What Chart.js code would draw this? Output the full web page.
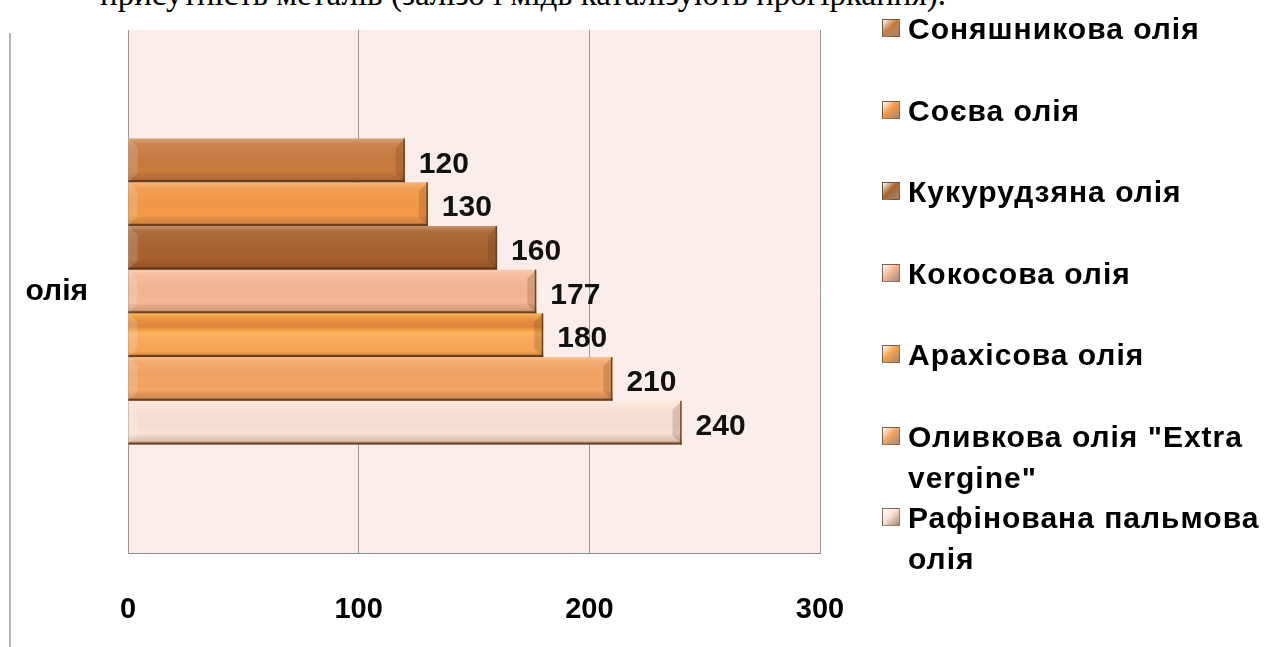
<!DOCTYPE html>
<html>
<head>
<meta charset="utf-8">
<script src="https://cdn.jsdelivr.net/npm/chart.js@4"></script>
<style>
  html, body { margin: 0; padding: 0; background: #fff; overflow: hidden; }
  body { width: 1282px; height: 647px; position: relative; font-family: 'Liberation Sans', Arial, sans-serif; }
  #wrap { position: absolute; left: 0; top: 0; width: 1282px; height: 647px; }
  .page-text {
    position: absolute; left: 100px; top: -22px; white-space: nowrap;
    font-family: 'Liberation Serif', 'Times New Roman', serif; font-size: 33px; line-height: 33px; color: #000;
  }
  .page-rule { position: absolute; left: 9px; top: 33px; width: 2px; height: 614px; background: #b4b4b4; }
  #legend { position: absolute; left: 0; top: 0; }
  .item { position: absolute; left: 882px; width: 395px; display: flex; align-items: flex-start; }
  .swatch { width: 18px; height: 18px; margin-top: 11px; margin-right: 8px; flex: none; box-sizing: border-box; border: 1px solid rgba(90, 50, 20, 0.6); }
  .name { font-weight: bold; font-size: 30px; line-height: 41px; letter-spacing: 1px; color: #000; max-width: 368px; }
</style>
</head>
<body>
<div class="page-text">присутність металів (залізо і мідь каталізують прогіркання).</div>
<div class="page-rule"></div>
<div id="wrap"><canvas id="chart" width="1282" height="647"></canvas></div>
<div id="legend"></div>
<script>
// one category, seven oils
const categories = ['олія'];
const oils = [
    'Соняшникова олія',
    'Соєва олія',
    'Кукурудзяна олія',
    'Кокосова олія',
    'Арахісова олія',
    'Оливкова олія "Extra vergine"',
    'Рафінована пальмова олія'
];
const values = [120, 130, 160, 177, 180, 210, 240];
const xTicks = [0, 100, 200, 300];

const colors = ['#C97B3F', '#F39A48', '#A9632F', '#F6B794', '#F6A04A', '#F4A463', '#FBE1D5'];

const plotBg = {
    id: 'plotBg',
    beforeDraw(chart) {
        const { ctx, chartArea: a } = chart;
        ctx.save();
        ctx.fillStyle = '#FBEEEA';
        ctx.fillRect(a.left, a.top, a.right - a.left, a.bottom - a.top);
        ctx.restore();
    }
};

// shading over each bar + the value at its end
const bevel = {
    id: 'bevel',
    afterDatasetsDraw(chart) {
        const ctx = chart.ctx;
        ctx.save();
        chart.data.datasets.forEach((ds, i) => {
            chart.getDatasetMeta(i).data.forEach((bar, j) => {
                const left = Math.min(bar.base, bar.x), right = Math.max(bar.base, bar.x);
                const top = bar.y - bar.height / 2, bottom = bar.y + bar.height / 2;
                const w = right - left, h = bottom - top;

                const g = ctx.createLinearGradient(0, top, 0, bottom);
                if (i === 4) {
                    g.addColorStop(0, 'rgba(255,200,90,0.55)');
                    g.addColorStop(0.18, 'rgba(200,110,40,0.35)');
                    g.addColorStop(0.3, 'rgba(190,100,40,0.45)');
                    g.addColorStop(0.42, 'rgba(255,190,80,0.45)');
                    g.addColorStop(0.55, 'rgba(255,255,255,0.12)');
                    g.addColorStop(0.85, 'rgba(255,255,255,0.05)');
                    g.addColorStop(0.94, 'rgba(70,35,10,0.2)');
                    g.addColorStop(1, 'rgba(70,35,10,0.6)');
                } else {
                    g.addColorStop(0, 'rgba(255,255,255,0.3)');
                    g.addColorStop(0.12, 'rgba(255,255,255,0.08)');
                    g.addColorStop(0.75, 'rgba(0,0,0,0)');
                    g.addColorStop(0.92, 'rgba(70,35,10,0.18)');
                    g.addColorStop(1, 'rgba(70,35,10,0.55)');
                }
                ctx.fillStyle = g;
                ctx.fillRect(left, top, w, h);

                // bevelled end cap
                const b = 9;
                ctx.fillStyle = 'rgba(80,40,15,0.18)';
                ctx.beginPath();
                ctx.moveTo(right, top);
                ctx.lineTo(right - b, top + b);
                ctx.lineTo(right - b, bottom - b);
                ctx.lineTo(right, bottom);
                ctx.closePath();
                ctx.fill();
                ctx.fillStyle = 'rgba(255,255,255,0.15)';
                ctx.beginPath();
                ctx.moveTo(left, top);
                ctx.lineTo(left + b, top + b);
                ctx.lineTo(left + b, bottom - b);
                ctx.lineTo(left, bottom);
                ctx.closePath();
                ctx.fill();

                ctx.fillStyle = 'rgba(95,55,25,0.85)';
                ctx.fillRect(left, bottom - 2, w, 2);
                ctx.fillRect(right - 1.5, top, 1.5, h);

                ctx.fillStyle = '#111';
                ctx.font = 'bold 30px "Liberation Sans", Arial, sans-serif';
                ctx.textAlign = 'left';
                ctx.textBaseline = 'middle';
                ctx.fillText(ds.data[j], right + 14, bar.y + 4);
            });
        });
        ctx.restore();
    }
};

Chart.defaults.font.family = "'Liberation Sans', Arial, sans-serif";
Chart.defaults.color = '#000';

const chart = new Chart(document.getElementById('chart'), {
    type: 'bar',
    data: {
        labels: categories,
        datasets: oils.map((name, i) => ({
            label: name,
            data: [values[i]],
            backgroundColor: colors[i],
            borderWidth: 0
        }))
    },
    options: {
        indexAxis: 'y',
        responsive: false,
        animation: false,
        layout: { padding: { top: 30, right: 462, left: 0, bottom: 0 } },
        datasets: { bar: { barPercentage: 1, categoryPercentage: 0.585 } },
        scales: {
            x: {
                min: 0,
                max: 300,
                afterBuildTicks(axis) { axis.ticks = xTicks.map(v => ({ value: v })); },
                afterFit(axis) {
                    axis.height = 94;
                    axis.paddingLeft = 0;
                    axis.paddingRight = 0;
                },
                grid: { color: '#999', lineWidth: 1, drawTicks: false },
                border: { color: '#8a8a8a', width: 1 },
                ticks: { padding: 40, font: { size: 29, weight: 'bold' }, color: '#000' }
            },
            y: {
                afterFit(axis) {
                    axis.width = 128;
                    axis.paddingTop = 0;
                    axis.paddingBottom = 0;
                },
                grid: { display: false },
                border: { display: false },
                ticks: { padding: 32, font: { size: 30, weight: 'bold' }, color: '#000' }
            }
        },
        plugins: {
            legend: { display: false },
            tooltip: { enabled: false }
        }
    },
    plugins: [plotBg, bevel]
});

// legend on the right, built from the datasets
const legendEl = document.getElementById('legend');
chart.data.datasets.forEach((ds, i) => {
    const item = document.createElement('div');
    item.className = 'item';
    item.style.top = (8 + i * 81.5) + 'px';
    const sw = document.createElement('span');
    sw.className = 'swatch';
    sw.style.background = `linear-gradient(135deg, rgba(255,255,255,0.35), ${ds.backgroundColor} 45%, rgba(80,40,15,0.55))`;
    const name = document.createElement('span');
    name.className = 'name';
    name.textContent = ds.label;
    item.appendChild(sw);
    item.appendChild(name);
    legendEl.appendChild(item);
});
</script>
</body>
</html>
